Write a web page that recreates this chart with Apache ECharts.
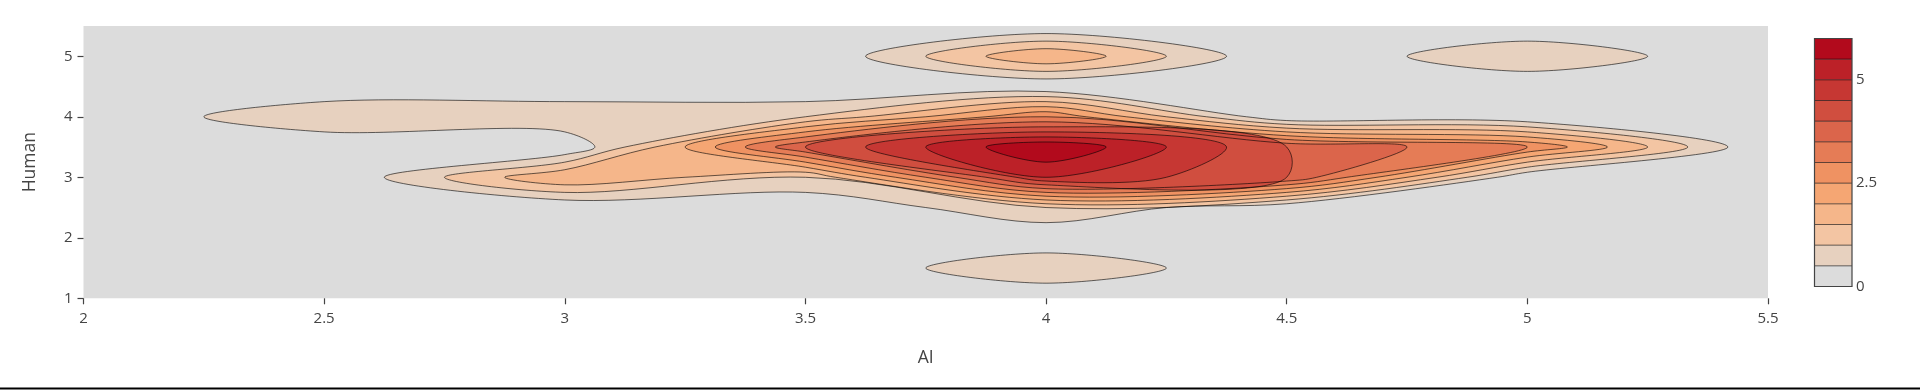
<!DOCTYPE html>
<html>
<head>
<meta charset="utf-8">
<script src="https://cdn.jsdelivr.net/npm/echarts@6/dist/echarts.min.js"></script>
<style>
html, body { margin: 0; padding: 0; background: #fff; }
#chart { width: 1920px; height: 390px; }
</style>
</head>
<body>
<div id="chart"></div>
<script>
// ---------------- data (binned counts) ----------------
const aiBinCenters = [2, 2.5, 3, 3.5, 4, 4.5, 5, 5.5];
const humanBinCenters = [1, 1.5, 2, 2.5, 3, 3.5, 4, 4.5, 5, 5.5];
// one row per Human bin (bottom to top), one column per AI bin
const countsHuman1   = [0, 0, 0, 0, 0, 0, 0, 0];
const countsHuman1_5 = [0, 0, 0, 0, 1, 0, 0, 0];
const countsHuman2   = [0, 0, 0, 0, 0, 0, 0, 0];
const countsHuman2_5 = [0, 0, 0, 0, 1, 0, 0, 0];
const countsHuman3   = [0, 0, 2, 1, 5, 4, 0, 0];
const countsHuman3_5 = [0, 0, 0, 4, 6, 4, 3, 0];
const countsHuman4   = [0, 1, 1, 1, 3, 0, 0, 0];
const countsHuman4_5 = [0, 0, 0, 0, 0, 0, 0, 0];
const countsHuman5   = [0, 0, 0, 0, 2, 0, 1, 0];
const countsHuman5_5 = [0, 0, 0, 0, 0, 0, 0, 0];
const counts = [countsHuman1, countsHuman1_5, countsHuman2, countsHuman2_5, countsHuman3,
                countsHuman3_5, countsHuman4, countsHuman4_5, countsHuman5, countsHuman5_5];
const contourLevels = [0.5, 1, 1.5, 2, 2.5, 3, 3.5, 4, 4.5, 5, 5.5];
const colorbarMax = 6;
const colorbarTicks = [0, 2.5, 5];
const xTicks = [2, 2.5, 3, 3.5, 4, 4.5, 5, 5.5];
const yTicks = [1, 2, 3, 4, 5];

// band fill colours (Plotly "Reds" scale sampled per band)
const bandColors = ['rgb(220,220,220)', 'rgb(231,209,191)', 'rgb(243,197,163)', 'rgb(245,182,138)',
  'rgb(245,166,115)', 'rgb(239,146,98)', 'rgb(229,124,86)', 'rgb(219,101,75)',
  'rgb(208,78,63)', 'rgb(198,55,51)', 'rgb(188,33,40)', 'rgb(178,10,28)'];

// ---------------- marching squares ----------------
function gridToData(arr, g) {
  const i = Math.min(Math.floor(g), arr.length - 2);
  const f = g - i;
  return arr[i] + f * (arr[i + 1] - arr[i]);
}

function contourLoops(z, xs, ys, level) {
  const ny = z.length, nx = z[0].length;
  const above = v => v > level;
  const pts = {}, adj = {};
  function ep(key, i0, j0, i1, j1) {
    if (!pts[key]) {
      const v0 = z[j0][i0], v1 = z[j1][i1];
      const t = (level - v0) / (v1 - v0);
      pts[key] = [i0 + t * (i1 - i0), j0 + t * (j1 - j0)];
    }
    return key;
  }
  function link(a, b) {
    (adj[a] = adj[a] || []).push(b);
    (adj[b] = adj[b] || []).push(a);
  }
  for (let j = 0; j < ny - 1; j++) {
    for (let i = 0; i < nx - 1; i++) {
      const bl = above(z[j][i]), br = above(z[j][i + 1]);
      const tl = above(z[j + 1][i]), tr = above(z[j + 1][i + 1]);
      const eB = bl !== br ? ep('h' + i + '_' + j, i, j, i + 1, j) : null;
      const eT = tl !== tr ? ep('h' + i + '_' + (j + 1), i, j + 1, i + 1, j + 1) : null;
      const eL = bl !== tl ? ep('v' + i + '_' + j, i, j, i, j + 1) : null;
      const eR = br !== tr ? ep('v' + (i + 1) + '_' + j, i + 1, j, i + 1, j + 1) : null;
      const list = [eB, eR, eT, eL].filter(Boolean);
      if (list.length === 2) link(list[0], list[1]);
      else if (list.length === 4) {
        const c = (z[j][i] + z[j][i + 1] + z[j + 1][i] + z[j + 1][i + 1]) / 4;
        const cAbove = c > level;
        if (bl) {
          if (cAbove) { link(eB, eR); link(eT, eL); } else { link(eB, eL); link(eT, eR); }
        } else {
          if (cAbove) { link(eB, eL); link(eT, eR); } else { link(eB, eR); link(eT, eL); }
        }
      }
    }
  }
  const visited = new Set();
  const loops = [];
  Object.keys(adj).forEach(start => {
    if (visited.has(start)) return;
    const loop = [];
    let prev = null, cur = start;
    while (cur && !visited.has(cur)) {
      visited.add(cur);
      loop.push(pts[cur].slice());
      const nb = adj[cur];
      const next = nb[0] !== prev ? nb[0] : nb[1];
      prev = cur; cur = next;
    }
    // thin points that are very close together (grid index units)
    let n = loop.length;
    let total = 0;
    for (let k = 0; k < n; k++) {
      const a = loop[k], b = loop[(k + 1) % n];
      total += Math.hypot(a[0] - b[0], a[1] - b[1]);
    }
    const thr = 0.2 * total / n;
    let changed = true;
    while (changed && loop.length > 3) {
      changed = false;
      for (let k = 0; k < loop.length; k++) {
        const a = loop[k], b = loop[(k + 1) % loop.length];
        if (Math.hypot(a[0] - b[0], a[1] - b[1]) < thr) {
          const m = [(a[0] + b[0]) / 2, (a[1] + b[1]) / 2];
          if (k + 1 < loop.length) loop.splice(k, 2, m);
          else { loop.splice(k, 1); loop[0] = m; }
          changed = true;
          break;
        }
      }
    }
    loops.push(loop.map(p => [gridToData(xs, p[0]), gridToData(ys, p[1])]));
  });
  return loops;
}

// Plotly-style closed Catmull-Rom smoothing in pixel space
function makeTangent(prev, cur, next, s) {
  const d1x = prev[0] - cur[0], d1y = prev[1] - cur[1];
  const d2x = next[0] - cur[0], d2y = next[1] - cur[1];
  const d1a = Math.pow(d1x * d1x + d1y * d1y, 0.25);
  const d2a = Math.pow(d2x * d2x + d2y * d2y, 0.25);
  const numx = (d2a * d2a * d1x - d1a * d1a * d2x) * s;
  const numy = (d2a * d2a * d1y - d1a * d1a * d2y) * s;
  const den1 = 3 * d2a * (d1a + d2a), den2 = 3 * d1a * (d1a + d2a);
  return [
    [cur[0] + (den1 ? numx / den1 : 0), cur[1] + (den1 ? numy / den1 : 0)],
    [cur[0] - (den2 ? numx / den2 : 0), cur[1] - (den2 ? numy / den2 : 0)]
  ];
}
function smoothClosed(p, s) {
  const n = p.length;
  if (n < 3) return 'M' + p.map(q => q[0] + ',' + q[1]).join('L') + 'Z';
  const t = [];
  for (let i = 0; i < n; i++) t.push(makeTangent(p[(i - 1 + n) % n], p[i], p[(i + 1) % n], s));
  let d = 'M' + p[0][0] + ',' + p[0][1];
  for (let i = 1; i <= n; i++) {
    const a = t[i - 1][1], b = t[i % n][0], q = p[i % n];
    d += 'C' + a[0] + ',' + a[1] + ' ' + b[0] + ',' + b[1] + ' ' + q[0] + ',' + q[1];
  }
  return d + 'Z';
}

const shapes = [];
contourLevels.forEach((L, k) => {
  contourLoops(counts, aiBinCenters, humanBinCenters, L).forEach(loop => {
    shapes.push({ level: L, color: bandColors[k + 1], pts: loop });
  });
});

const colorbarBands = bandColors.map((c, k) => [k, k * 0.5, Math.min((k + 1) * 0.5, colorbarMax)]);

const FONT = '"Open Sans", verdana, arial, sans-serif';
const chart = echarts.init(document.getElementById('chart'), null, { renderer: 'canvas' });

chart.setOption({
  animation: false,
  backgroundColor: '#fff',
  grid: [
    { left: 83.5, top: 26, width: 1684.5, height: 272.3, show: true, backgroundColor: bandColors[0], borderWidth: 0 },
    { left: 1814.5, top: 38.5, width: 37.5, height: 248, show: false }
  ],
  xAxis: [
    {
      gridIndex: 0, type: 'value', min: 2, max: 5.5, interval: 0.5,
      axisLine: { show: true, lineStyle: { color: 'rgba(0,0,0,0)' } },
      axisTick: { show: true, length: 6, lineStyle: { color: '#444', width: 1.2 } },
      axisLabel: { color: '#444', fontSize: 15, fontFamily: FONT, margin: 13, formatter: v => String(v) },
      splitLine: { show: false },
      name: 'AI', nameLocation: 'middle', nameGap: 51,
      nameTextStyle: { color: '#444', fontSize: 17.5, fontFamily: FONT }
    },
    { gridIndex: 1, type: 'value', min: 0, max: 1, show: false }
  ],
  yAxis: [
    {
      gridIndex: 0, type: 'value', min: 1, max: 5.5, interval: 1,
      axisLine: { show: true, lineStyle: { color: 'rgba(0,0,0,0)' } },
      axisTick: { show: true, length: 6, customValues: yTicks, lineStyle: { color: '#444', width: 1.2 } },
      axisLabel: { color: '#444', fontSize: 15, fontFamily: FONT, margin: 11, customValues: yTicks },
      splitLine: { show: false },
      name: 'Human', nameLocation: 'middle', nameGap: 44, nameRotate: 90,
      nameTextStyle: { color: '#444', fontSize: 17.5, fontFamily: FONT }
    },
    {
      gridIndex: 1, type: 'value', min: 0, max: colorbarMax, position: 'right',
      axisLine: { show: false }, axisTick: { show: false }, splitLine: { show: false },
      axisLabel: { color: '#444', fontSize: 15, fontFamily: FONT, margin: 4, customValues: colorbarTicks }
    }
  ],
  series: [
    {
      type: 'custom', name: 'fills', xAxisIndex: 0, yAxisIndex: 0, silent: true, clip: true,
      data: shapes.map(s => s.pts[0]),
      renderItem: (params, api) => {
        const s = shapes[params.dataIndex];
        const px = s.pts.map(p => api.coord(p));
        return { type: 'path', shape: { pathData: smoothClosed(px, 1) }, style: { fill: s.color, stroke: null } };
      }
    },
    {
      type: 'custom', name: 'lines', xAxisIndex: 0, yAxisIndex: 0, silent: true, clip: true,
      data: shapes.map(s => s.pts[0]),
      renderItem: (params, api) => {
        const s = shapes[params.dataIndex];
        const px = s.pts.map(p => api.coord(p));
        return { type: 'path', shape: { pathData: smoothClosed(px, 1) }, style: { fill: null, stroke: '#000', lineWidth: 0.6 } };
      }
    },
    {
      type: 'custom', name: 'colorbar', xAxisIndex: 1, yAxisIndex: 1, silent: true,
      data: colorbarBands.map(b => [0, b[1]]),
      renderItem: (params, api) => {
        const b = colorbarBands[params.dataIndex];
        const p0 = api.coord([0, b[1]]), p1 = api.coord([1, b[2]]);
        return { type: 'rect', shape: { x: p0[0], y: p1[1], width: p1[0] - p0[0], height: p0[1] - p1[1] },
                 style: { fill: bandColors[b[0]] } };
      }
    },
    {
      type: 'custom', name: 'colorbarLines', xAxisIndex: 1, yAxisIndex: 1, silent: true,
      data: contourLevels.map(L => [0, L]),
      renderItem: (params, api) => {
        const L = contourLevels[params.dataIndex];
        const a = api.coord([0, L]), b = api.coord([1, L]);
        return { type: 'line', shape: { x1: a[0], y1: a[1], x2: b[0], y2: b[1] }, style: { stroke: '#000', lineWidth: 0.6 } };
      }
    },
    {
      type: 'custom', name: 'colorbarOutline', xAxisIndex: 1, yAxisIndex: 1, silent: true,
      data: [[0, 0]],
      renderItem: (params, api) => {
        const p0 = api.coord([0, 0]), p1 = api.coord([1, colorbarMax]);
        return { type: 'rect', shape: { x: p0[0], y: p1[1], width: p1[0] - p0[0], height: p0[1] - p1[1] },
                 style: { fill: null, stroke: '#444', lineWidth: 1.2 } };
      }
    }
  ],
  graphic: [
    { type: 'rect', left: 0, top: 387.5, shape: { width: 1920, height: 2 }, style: { fill: '#000' }, silent: true }
  ]
});
</script>
</body>
</html>
